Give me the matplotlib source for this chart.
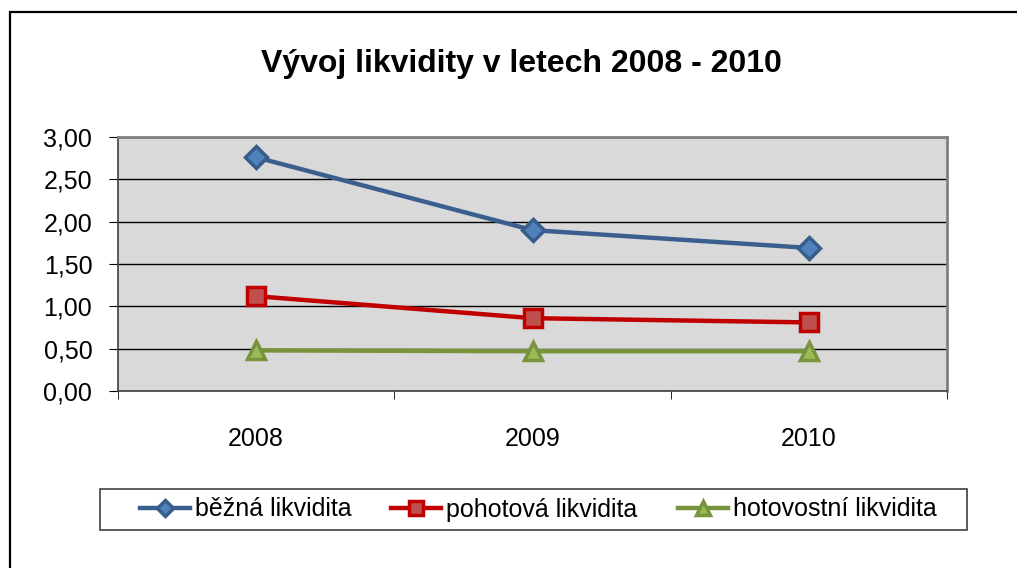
import matplotlib
matplotlib.use("Agg")
import matplotlib.pyplot as plt
from matplotlib.patches import Rectangle

years = ["2008", "2009", "2010"]
bezna = [2.76, 1.90, 1.69]
pohotova = [1.12, 0.86, 0.81]
hotovostni = [0.48, 0.47, 0.47]
labels = ["běžná likvidita", "pohotová likvidita", "hotovostní likvidita"]
yticks = [0.0, 0.5, 1.0, 1.5, 2.0, 2.5, 3.0]

plt.rcParams["font.family"] = ["Liberation Sans", "DejaVu Sans"]

W, H = 1017, 568
fig = plt.figure(figsize=(W / 100, H / 100), dpi=100)
ax = fig.add_axes([118 / W, 1 - 391 / H, 829 / W, 254 / H])
ax.set_facecolor("#d9d9d9")

x = range(len(years))
ax.plot(x, bezna, color="#3a5f8f", lw=3.2, marker="D", ms=11,
        mfc="#4f81bd", mec="#385d8a", mew=2.5, label=labels[0], zorder=3)
ax.plot(x, pohotova, color="#c00000", lw=3.2, marker="s", ms=13,
        mfc="#c0504d", mec="#c00000", mew=2.5, label=labels[1], zorder=3)
ax.plot(x, hotovostni, color="#77933c", lw=3.2, marker="^", ms=13,
        mfc="#9bbb59", mec="#77933c", mew=2.5, label=labels[2], zorder=3)

ax.set_ylim(0, 3)
ax.set_xlim(-0.5, len(years) - 0.5)
ax.set_yticks(yticks)
ax.set_yticklabels([f"{v:.2f}".replace(".", ",") for v in yticks], fontsize=18)
ax.yaxis.grid(True, color="black", lw=1)
ax.set_axisbelow(True)

ax.set_xticks(list(x))
ax.set_xticklabels(years, fontsize=18)
ax.set_xticks([i - 0.5 for i in range(len(years) + 1)], minor=True)
ax.tick_params(axis="x", which="major", length=0, pad=26)
ax.tick_params(axis="x", which="minor", length=6, direction="out")
ax.tick_params(axis="y", length=6.5, pad=12)

for side in ["top", "right"]:
    ax.spines[side].set_color("#808080")
    ax.spines[side].set_linewidth(2)
for side in ["left", "bottom"]:
    ax.spines[side].set_color("#404040")
    ax.spines[side].set_linewidth(1.2)

fig.text(521 / W, 1 - 64 / H, "Vývoj likvidity v letech 2008 - 2010",
         ha="center", va="center", fontsize=23, fontweight="bold")

# legend box drawn separately so the padding matches the original
fig.patches.append(Rectangle((100 / W, 1 - 530 / H), 867 / W, 41 / H,
                             transform=fig.transFigure, fill=False,
                             edgecolor="#404040", lw=1.2))
fig.legend(loc="center", bbox_to_anchor=(538 / W, 1 - 509.5 / H),
           ncol=3, fontsize=18, frameon=False, handlelength=2.0,
           handletextpad=0.2, columnspacing=1.6, borderpad=0.2,
           markerscale=0.75)

# outer chart border (only left and top visible)
fig.patches.append(Rectangle((9.5 / W, -0.1), 1.1, 1.1 - 12 / H,
                             transform=fig.transFigure, fill=False,
                             edgecolor="black", lw=1.6))

fig.savefig("out.png", dpi=100)
